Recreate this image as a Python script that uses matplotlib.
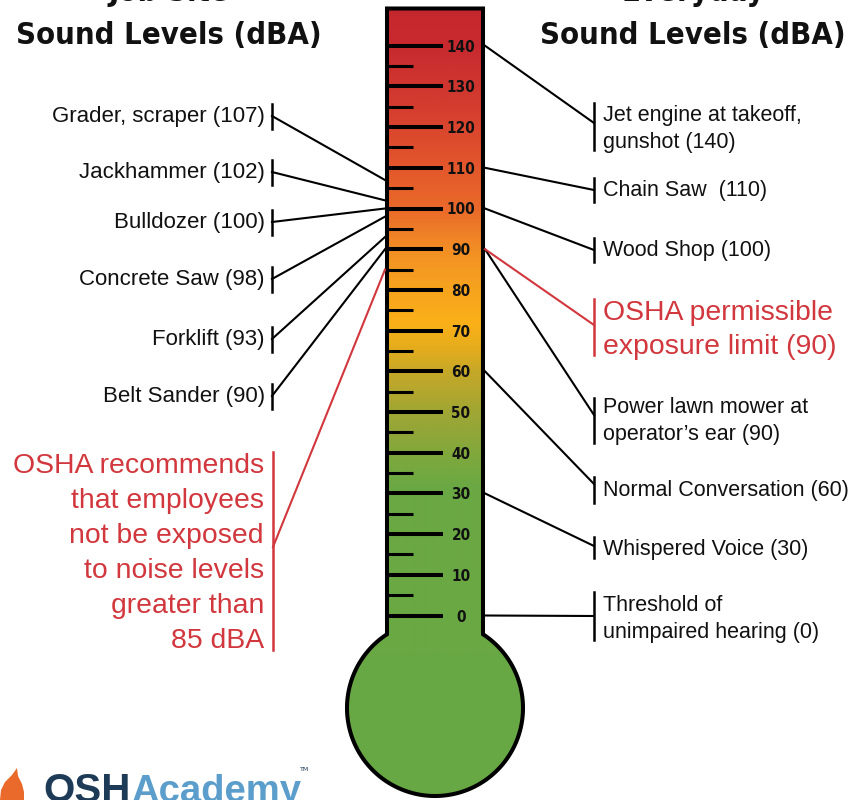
import matplotlib
matplotlib.use('Agg')
import numpy as np
import matplotlib.pyplot as plt
from matplotlib.patches import Polygon
from matplotlib.colors import LinearSegmentedColormap
from matplotlib import font_manager

# --- dados ---
escala_maior = np.arange(0, 141, 10)
escala_menor = np.arange(5, 140, 10)

obra_nomes = ["Grader, scraper (107)", "Jackhammer (102)", "Bulldozer (100)",
              "Concrete Saw (98)", "Forklift (93)", "Belt Sander (90)"]
obra_db = [107, 102, 100, 98, 93, 90]

dia_nomes = [["Jet engine at takeoff,", "gunshot (140)"],
             ["Chain Saw  (110)"],
             ["Wood Shop (100)"],
             ["Power lawn mower at", "operator\u2019s ear (90)"],
             ["Normal Conversation (60)"],
             ["Whispered Voice (30)"],
             ["Threshold of", "unimpaired hearing (0)"]]
dia_db = [140, 110, 100, 90, 60, 30, 0]

osha_pel_txt = ["OSHA permissible", "exposure limit (90)"]
osha_pel_db = 90
osha_rec_txt = ["OSHA recommends", "that employees", "not be exposed",
                "to noise levels", "greater than", "85 dBA"]
osha_rec_db = 85

# cores do termometro por nivel (dB)
grad_db = [-50, 32, 40, 50, 60, 66, 72, 80, 90, 100, 110, 125, 140, 155]
grad_cor = ['#67a845', '#6ba843', '#82a83c', '#a0a634', '#c6a828', '#e6ad1c',
            '#fbb018', '#f7a41e', '#f28f25', '#ea6a2a', '#e4582c', '#d53d2f',
            '#c82a2f', '#c4262e']

# --- layout (pixels) ---
Y0, K = 615.5, 4.07          # pixel y do 0 dB e pixels por dB
def px2db(y):
    return (Y0 - y) / K

# procura uma fonte condensada, se tiver
condensada = None
for f in font_manager.fontManager.ttflist:
    nm = f.name.lower()
    if ('narrow' in nm or 'condensed' in nm or f.stretch in ('condensed', 'semi-condensed')) \
            and f.weight in ('bold', 700, 'heavy', 800, 'semibold', 600):
        condensada = font_manager.FontProperties(fname=f.fname)
        break
if condensada is None:
    condensada = font_manager.FontProperties(family='Liberation Sans', weight='bold')

normal = 'Liberation Sans'
VERM = '#d1373d'
PRETO = '#111111'

fig = plt.figure(figsize=(8.62, 8.0), dpi=100)
ax0 = fig.add_axes([0, 0, 1, 1])
ax0.set_xlim(0, 862)
ax0.set_ylim(800, 0)
ax0.axis('off')

ax = fig.add_axes([0, 0, 1, 1])
ax.set_xlim(0, 862)
ax.set_ylim(px2db(800), px2db(0))
ax.axis('off')
ax.patch.set_alpha(0)

# corpo do termometro
esq, dir_, topo = 387, 483, 8.5
cx, cy, r = 435, 708, 88
phi = np.degrees(np.arccos((cx - esq) / r))
th = np.radians(np.linspace(180 + phi, -phi, 200))
pts = np.column_stack([cx + r * np.cos(th), cy + r * np.sin(th)])
pts = np.vstack([pts, [[dir_, topo], [esq, topo]]])

lo, hi = grad_db[0], grad_db[-1]
cmap = LinearSegmentedColormap.from_list(
    'termo', [((d - lo) / (hi - lo), c) for d, c in zip(grad_db, grad_cor)])
linhas = px2db(np.arange(800) + 0.5).reshape(-1, 1)
im = ax0.imshow(linhas, cmap=cmap, vmin=lo, vmax=hi, aspect='auto',
                extent=[335, 535, 800, 0], interpolation='bilinear', zorder=1)
clip = Polygon(pts, closed=True, transform=ax0.transData)
im.set_clip_path(clip)
ax0.add_patch(Polygon(pts, closed=True, facecolor='none', edgecolor='black',
                      lw=2.9, joinstyle='miter', zorder=5))

# escala
ax.hlines(escala_maior, esq, 443, color='black', lw=2.9, capstyle='butt', zorder=3)
ax.hlines(escala_menor, esq, 413, color='black', lw=2.2, capstyle='butt', zorder=3)
for v in escala_maior:
    ax.text(461, v - 6 / K, str(v), ha='center', va='baseline',
            fontproperties=condensada, fontsize=11, color=PRETO, zorder=4)

# lado esquerdo: obra
obra_y = [114, 170, 220, 277, 337, 394]
for nome, v, ty in zip(obra_nomes, obra_db, obra_y):
    ax.text(265, px2db(ty + 8.3), nome, ha='right', va='baseline', fontsize=16,
            family=normal, color=PRETO)
    bc = ty + 2
    ax.plot([272, 272], [px2db(bc - 12.5), px2db(bc + 12.5)], color='black', lw=1.8)
    ax.plot([272, 385], [px2db(bc), v], color='black', lw=1.5)

rec_y = [463, 498, 533, 568, 603, 638]
for t, ty in zip(osha_rec_txt, rec_y):
    ax.text(264, px2db(ty + 10.1), t, ha='right', va='baseline', fontsize=20.4,
            family=normal, color=VERM)
ax.plot([273, 273], [px2db(452), px2db(650)], color=VERM, lw=1.8)
ax.plot([273, 385], [px2db(547), osha_rec_db], color=VERM, lw=1.5)

# lado direito: dia a dia
dia_y = [[113, 140], [188], [248], [405, 432], [488], [547], [603, 630]]
dia_barra = [(103, 150), (178, 202), (238, 262), (398, 443), (477, 503),
             (537, 558), (592, 640)]
dia_anc = [123, 190, 250, 415, 484, 546, 616]
for txt, v, ys, (b0, b1), an in zip(dia_nomes, dia_db, dia_y, dia_barra, dia_anc):
    for t, ty in zip(txt, ys):
        ax.text(603, px2db(ty + 7.7), t, ha='left', va='baseline', fontsize=15.5,
                family=normal, color=PRETO)
    ax.plot([594, 594], [px2db(b0), px2db(b1)], color='black', lw=1.8)
    ax.plot([485, 594], [v, px2db(an)], color='black', lw=1.5)

for t, ty in zip(osha_pel_txt, [310, 344]):
    ax.text(603, px2db(ty + 10.1), t, ha='left', va='baseline', fontsize=20.4,
            family=normal, color=VERM)
ax.plot([594, 594], [px2db(299), px2db(355)], color=VERM, lw=1.8)
ax.plot([485, 594], [osha_pel_db, px2db(325)], color=VERM, lw=1.5)

# titulos
titulos = []
for x, t1 in [(169, "Job Site"), (693, "Everyday")]:
    titulos.append(ax0.text(x, 1, t1, ha='center', va='baseline',
                            fontproperties=condensada, color=PRETO))
    titulos.append(ax0.text(x, 44, "Sound Levels (dBA)", ha='center', va='baseline',
                            fontproperties=condensada, color=PRETO))

# ajusta o tamanho da fonte condensada pela largura medida no original
rend = fig.canvas.get_renderer()
for t in titulos:
    t.set_fontsize(20)
w_tit = titulos[1].get_window_extent(rend).width
for t in titulos:
    t.set_fontsize(20 * 305 / w_tit)

# logo
ax0.add_patch(Polygon([(0, 800), (1, 790), (5, 782), (12, 775), (17, 768),
                       (18, 776), (22, 784), (24, 792), (24, 800)],
                      closed=True, facecolor='#ea6a2c', edgecolor='none'))
ax0.text(43, 802, "OSH", ha='left', va='baseline', fontsize=29, weight='bold',
         family=normal, color='#1d3b57')
ax0.text(131, 802, "Academy", ha='left', va='baseline', fontsize=27.5, weight='bold',
         family=normal, color='#5b9dcb')
ax0.text(300, 771, "TM", ha='left', va='baseline', fontsize=4.5, color='#1d3b57')

fig.savefig('out.png', dpi=100)
